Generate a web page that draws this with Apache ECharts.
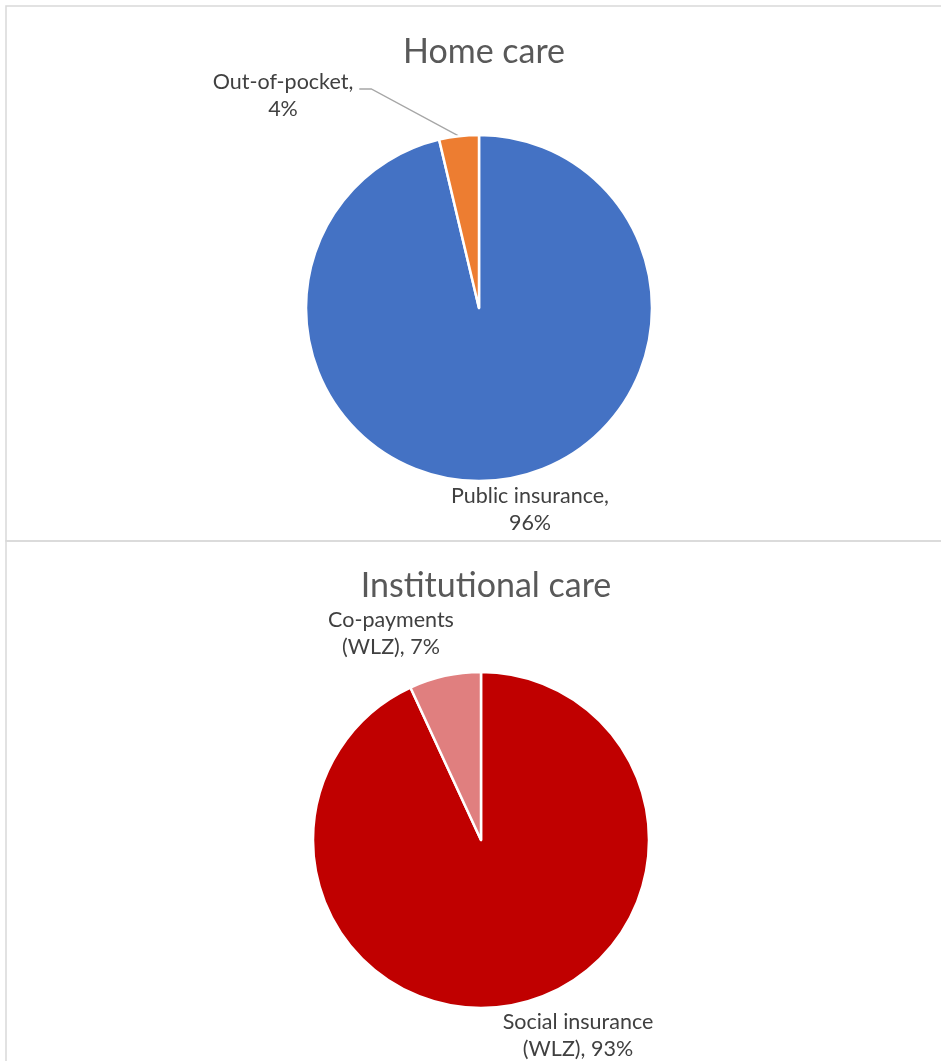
<!DOCTYPE html>
<html>
<head>
<meta charset="utf-8">
<title>Home care / Institutional care</title>
<script src="https://cdn.jsdelivr.net/npm/echarts@6/dist/echarts.min.js"></script>
<style>
  html, body { margin: 0; padding: 0; background: #fff; }
  #chart { width: 941px; height: 1061px; }
</style>
</head>
<body>
<div id="chart"></div>
<script>
// data
var homeNames = ['Public insurance', 'Out-of-pocket'];
var homeValues = [96.3, 3.7];
var instNames = ['Social insurance (WLZ)', 'Co-payments (WLZ)'];
var instValues = [93.1, 6.9];

var homeColors = ['#4472C4', '#ED7D31'];
var instColors = ['#C00000', '#E07F7F'];

var myChart = echarts.init(document.getElementById('chart'));

var FONT = 'Lato, "Open Sans", sans-serif';
var LABEL_SIZE = 21.5;

// word wrap like Excel does (by pixel width)
var ctx = document.createElement('canvas').getContext('2d');
function wrap(text, maxW) {
    ctx.font = LABEL_SIZE + 'px ' + FONT;
    var words = text.split(' ');
    var lines = [], cur = '';
    words.forEach(function (w) {
        var t = cur ? cur + ' ' + w : w;
        if (cur && ctx.measureText(t).width > maxW) {
            lines.push(cur);
            cur = w;
        } else {
            cur = t;
        }
    });
    lines.push(cur);
    return lines.join('\n');
}

// where Excel put the labels (label centre)
var labelPos = {
    'Public insurance': [530, 510],
    'Out-of-pocket': [283, 96],
    'Social insurance (WLZ)': [578, 1036],
    'Co-payments (WLZ)': [391, 634]
};
var withLeader = { 'Out-of-pocket': true };

function toData(names, values, colors) {
    return names.map(function (n, i) {
        return {
            name: n,
            value: values[i],
            itemStyle: { color: colors[i] },
            labelLine: { show: !!withLeader[n] }
        };
    });
}

function pieSeries(names, values, colors, center, radius) {
    return {
        type: 'pie',
        center: center,
        radius: radius,
        startAngle: 90,
        clockwise: true,
        animation: false,
        data: toData(names, values, colors),
        itemStyle: { borderColor: '#fff', borderWidth: 2.5 },
        label: {
            show: true,
            position: 'outside',
            formatter: function (p) {
                return wrap(p.name + ', ' + Math.round(p.percent) + '%', 168);
            },
            align: 'center',
            color: '#404040',
            fontFamily: FONT,
            fontSize: LABEL_SIZE,
            lineHeight: 27
        },
        labelLine: {
            lineStyle: { color: '#A6A6A6', width: 1.3 },
            length: 20,
            length2: 12
        },
        labelLayout: function (params) {
            var pos = labelPos[names[params.dataIndex]];
            var out = {
                x: pos[0],
                y: pos[1],
                align: 'center',
                verticalAlign: 'middle'
            };
            // Excel style leader: from slice edge to the end of the first line
            if (withLeader[names[params.dataIndex]] && params.labelLinePoints) {
                var r = params.labelRect;
                var endX = pos[0] + r.width / 2 + 6;
                var endY = pos[1] - 7;
                out.labelLinePoints = [
                    params.labelLinePoints[0],
                    [endX + 12, endY],
                    [endX, endY]
                ];
            }
            return out;
        }
    };
}

option = {
    backgroundColor: '#fff',
    title: [{
        text: 'Home care',
        left: 479,
        top: 30,
        textAlign: 'center',
        textStyle: { color: '#595959', fontFamily: FONT, fontSize: 34, fontWeight: 'normal' }
    }, {
        text: 'Institutional care',
        left: 481,
        top: 564,
        textAlign: 'center',
        textStyle: { color: '#595959', fontFamily: FONT, fontSize: 34, fontWeight: 'normal' }
    }],
    graphic: [{
        type: 'rect',
        shape: { x: 6, y: 6, width: 960, height: 535 },
        style: { fill: 'none', stroke: '#D9D9D9', lineWidth: 1.5 },
        silent: true
    }, {
        type: 'rect',
        shape: { x: 6, y: 541, width: 960, height: 540 },
        style: { fill: 'none', stroke: '#D9D9D9', lineWidth: 1.5 },
        silent: true
    }],
    series: [
        pieSeries(homeNames, homeValues, homeColors, [479, 308], 173),
        pieSeries(instNames, instValues, instColors, [481, 840], 168)
    ]
};

myChart.setOption(option);
</script>
</body>
</html>
